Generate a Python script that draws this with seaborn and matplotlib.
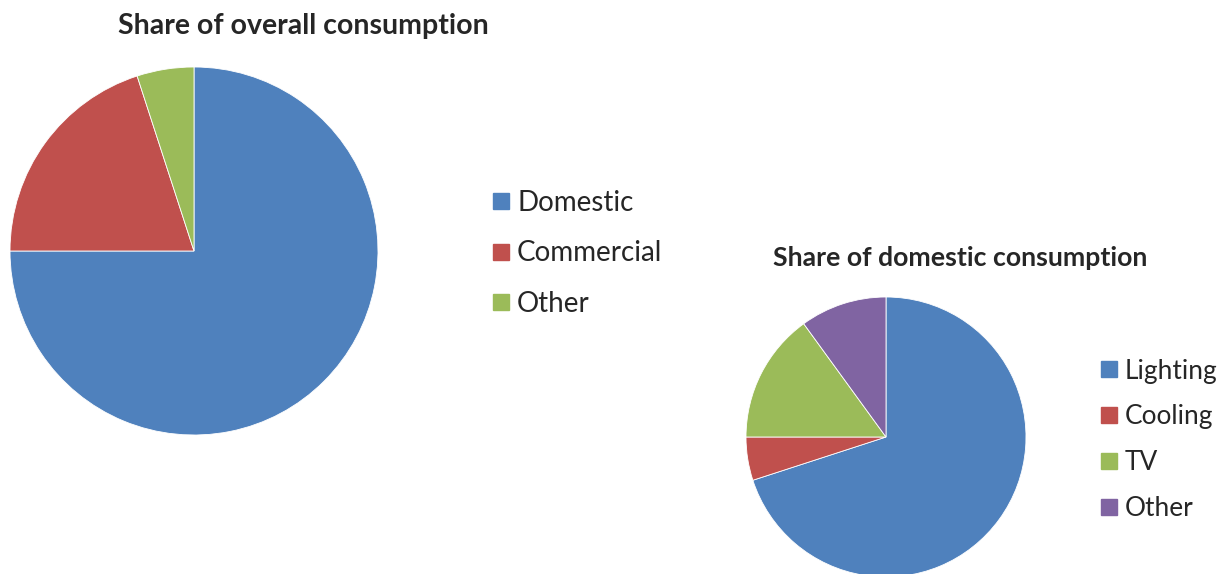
import matplotlib
matplotlib.use("Agg")
import matplotlib.pyplot as plt
from matplotlib.lines import Line2D
import seaborn as sns

# data
overall_labels = ["Domestic", "Commercial", "Other"]
overall_share = [75, 20, 5]
domestic_labels = ["Lighting", "Cooling", "TV", "Other"]
domestic_share = [70, 5, 15, 10]

sns.set_theme(style="white")
plt.rcParams["font.family"] = ["Lato", "DejaVu Sans"]
colors = sns.color_palette(["#4F81BD", "#C0504D", "#9BBB59", "#8064A2"])

W, H = 1226, 574
fig = plt.figure(figsize=(W / 100, H / 100), dpi=100)


def px_axes(cx, cy, r):
    # axes box in pixel coords, square around the pie
    return fig.add_axes([(cx - r) / W, (H - cy - r) / H, 2 * r / W, 2 * r / H])


def draw_pie(ax, values, labels, title, title_xy, title_fs, leg_xy, leg_fs, spacing):
    ax.pie(values, colors=colors[:len(values)], startangle=90, counterclock=False,
           radius=1, wedgeprops=dict(linewidth=0.6, edgecolor="white"))
    ax.set_xlim(-1, 1)
    ax.set_ylim(-1, 1)
    ax.set_axis_off()
    fig.text(title_xy[0] / W, 1 - title_xy[1] / H, title, fontsize=title_fs,
             fontweight="bold", ha="center", va="center")
    handles = [Line2D([], [], marker="s", linestyle="none", markersize=11.5,
                      markerfacecolor=c, markeredgecolor=c) for c in colors[:len(values)]]
    fs_px = leg_fs * 100 / 72
    fig.legend(handles, labels, loc="upper left",
               bbox_to_anchor=(leg_xy[0] / W, 1 - leg_xy[1] / H),
               frameon=False, fontsize=leg_fs, handlelength=16 / fs_px,
               handletextpad=8 / fs_px, labelspacing=spacing,
               borderpad=0, borderaxespad=0)


ax1 = px_axes(194, 251, 184)
draw_pie(ax1, overall_share, overall_labels, "Share of overall consumption",
         (303, 26), 20.5, (493, 190), 20, 0.88)

ax2 = px_axes(886, 437, 140)
draw_pie(ax2, domestic_share, domestic_labels, "Share of domestic consumption",
         (960, 258), 19.2, (1101, 358.5), 18.9, 0.79)

fig.savefig("out.png", dpi=100)
